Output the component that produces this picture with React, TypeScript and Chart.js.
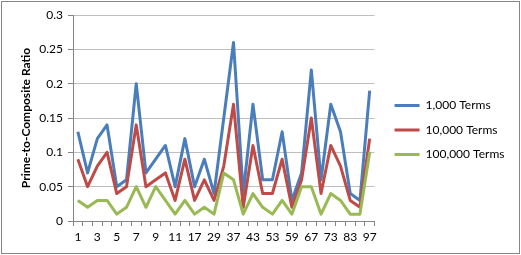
import React, { useEffect, useRef } from "react";
import { Chart, registerables } from "chart.js";

Chart.register(...registerables);

// Categories (x-axis) and series values
const categories = [1, 2, 3, 4, 5, 6, 7, 8, 9, 10, 11, 13, 17, 19, 29, 31, 37, 41, 43, 47, 53, 57, 59, 61, 67, 71, 73, 79, 83, 89, 97];

const terms1000 = [0.13, 0.07, 0.12, 0.14, 0.05, 0.06, 0.2, 0.07, 0.09, 0.11, 0.05, 0.12, 0.05, 0.09, 0.04, 0.15, 0.26, 0.04, 0.17, 0.06, 0.06, 0.13, 0.03, 0.07, 0.22, 0.06, 0.17, 0.13, 0.04, 0.03, 0.19];
const terms10000 = [0.09, 0.05, 0.08, 0.1, 0.04, 0.05, 0.14, 0.05, 0.06, 0.07, 0.03, 0.09, 0.03, 0.06, 0.03, 0.08, 0.17, 0.02, 0.11, 0.04, 0.04, 0.09, 0.02, 0.06, 0.15, 0.04, 0.11, 0.08, 0.03, 0.02, 0.12];
const terms100000 = [0.03, 0.02, 0.03, 0.03, 0.01, 0.02, 0.05, 0.02, 0.05, 0.03, 0.01, 0.03, 0.01, 0.02, 0.01, 0.07, 0.06, 0.01, 0.04, 0.02, 0.01, 0.03, 0.01, 0.05, 0.05, 0.01, 0.04, 0.03, 0.01, 0.01, 0.1];

const seriesNames = ["1,000 Terms", "10,000 Terms", "100,000 Terms"];
const seriesColors = ["#4A7EBB", "#BE4B48", "#98B954"];
const yAxisTitle = "Prime-to-Composite Ratio";
const yMin = 0;
const yMax = 0.3;
const yStep = 0.05;

export default function App() {
  const ref = useRef<HTMLCanvasElement>(null);

  useEffect(() => {
    if (!ref.current) return;
    Chart.defaults.font.family = "Lato, 'Open Sans', sans-serif";
    Chart.defaults.font.size = 12;
    Chart.defaults.color = "#000";

    const values = [terms1000, terms10000, terms100000];
    const chart = new Chart(ref.current, {
      type: "line",
      data: {
        labels: categories.map(String),
        datasets: values.map((v, i) => ({
          label: seriesNames[i],
          data: v,
          borderColor: seriesColors[i],
          backgroundColor: seriesColors[i],
          borderWidth: 3,
          pointRadius: 0,
          pointHoverRadius: 0,
          tension: 0,
          fill: false,
          borderJoinStyle: "round" as const,
          borderCapStyle: "butt" as const,
          order: 3 - i,
          yAxisID: "y",
        })),
      },
      options: {
        responsive: false,
        devicePixelRatio: 1,
        animation: false,
        events: [],
        layout: { padding: { left: 15, top: 15, right: 6.5, bottom: 10 } },
        plugins: {
          tooltip: { enabled: false },
          legend: {
            position: "right",
            maxWidth: 200,
            labels: {
              usePointStyle: true,
              pointStyle: "line",
              pointStyleWidth: 25,
              padding: 12.5,
              color: "#000",
              font: { size: 12 },
              sort: (a: any, b: any) => a.datasetIndex - b.datasetIndex,
            },
          },
        },
        scales: {
          x: {
            type: "category",
            offset: true,
            grid: {
              display: true,
              drawOnChartArea: false,
              drawTicks: true,
              tickLength: 5,
              offset: true,
              color: "#868686",
            },
            border: { display: true, color: "#868686", width: 1 },
            ticks: {
              autoSkip: false,
              maxRotation: 0,
              minRotation: 0,
              padding: 4,
              color: "#000",
              font: { size: 12 },
              callback: (_v: any, idx: number) => (idx % 2 === 0 ? String(categories[idx]) : ""),
            },
            afterFit: (s: any) => {
              s.height = 24;
            },
          },
          y: {
            position: "left",
            min: yMin,
            max: yMax,
            grid: {
              color: "#BFBFBF",
              tickColor: "#868686",
              tickLength: 5,
              lineWidth: 1,
            },
            border: { display: true, color: "#868686", width: 1 },
            ticks: {
              stepSize: yStep,
              padding: 5,
              color: "#000",
              font: { size: 12 },
              callback: (v: any) => String(Math.round(Number(v) * 100) / 100),
            },
            title: {
              display: true,
              text: yAxisTitle,
              color: "#000",
              font: { size: 12, weight: "bold" },
              padding: { top: 4, bottom: 4 },
            },
            afterFit: (s: any) => {
              s.width = 58;
            },
          },
          gap: {
            position: "right",
            display: true,
            grid: { display: false, drawTicks: false },
            border: { display: false },
            ticks: { display: false },
            afterFit: (s: any) => {
              s.width = 7.5;
            },
          },
        },
      },
    } as any);
    return () => chart.destroy();
  }, []);

  return (
    <div style={{ position: "absolute", left: 0, top: 0, width: 521, height: 255, background: "#fff" }}>
      <canvas ref={ref} width={521} height={255} style={{ position: "absolute", left: 0, top: 0, width: 521, height: 255 }} />
      <div
        style={{
          position: "absolute",
          left: 1,
          top: 1,
          width: 519,
          height: 253,
          border: "1px solid #868686",
          boxSizing: "border-box",
          pointerEvents: "none",
        }}
      />
    </div>
  );
}
